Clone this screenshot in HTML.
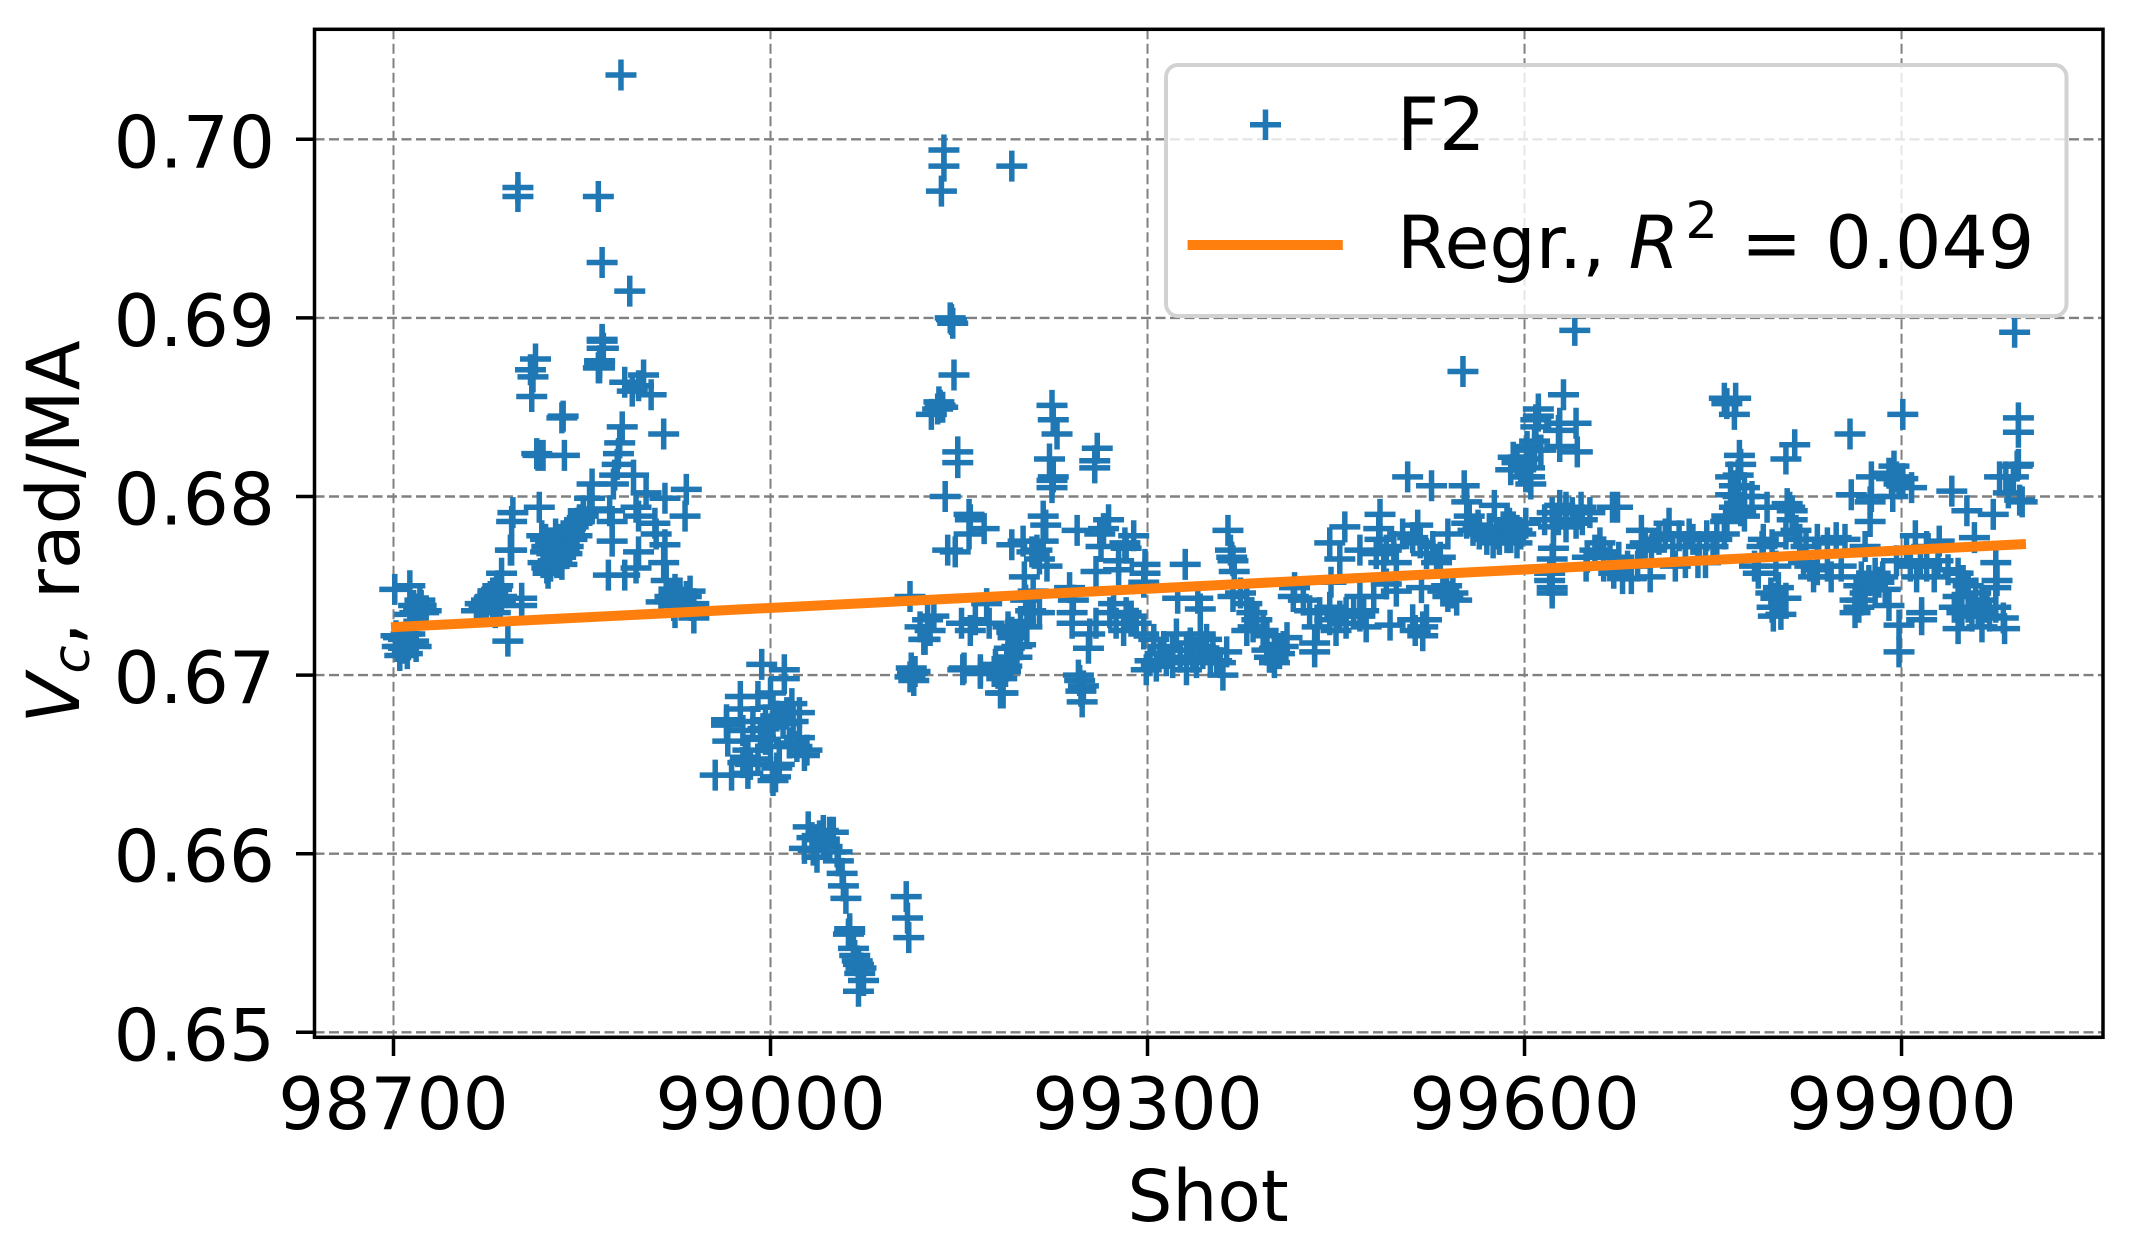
<!DOCTYPE html>
<html lang="en">
<head>
<meta charset="utf-8">
<title>Vc vs Shot</title>
<style>
html,body{margin:0;padding:0;background:#fff;}
svg{display:block;font-family:"DejaVu Sans","Liberation Sans",sans-serif;}
text{fill:#000;}
</style>
</head>
<body>
<svg id="chart" xmlns="http://www.w3.org/2000/svg" width="2136" height="1251" viewBox="0 0 2136 1251">
<rect x="0" y="0" width="2136" height="1251" fill="#fff"/>
<g id="grid"></g>
<g id="points"></g>
<g id="regression"></g>
<g id="legend">
<rect x="1166" y="65" width="900.5" height="251" rx="12" ry="12" fill="rgba(255,255,255,0.8)" stroke="#d2d2d2" stroke-width="4"/>
<path d="M1250 124.7H1281M1265.5 109.5V140" stroke="#1f77b4" stroke-width="5.5" fill="none"/>
<text x="1397" y="150" font-size="73">F2</text>
<line x1="1187.6" y1="245" x2="1342.8" y2="245" stroke="#ff7f0e" stroke-width="10"/>
<text x="1397" y="268" font-size="73">Regr., <tspan font-style="italic">R</tspan><tspan font-size="51" dy="-30" dx="6">2</tspan><tspan dy="30"> = 0.049</tspan></text>
</g>
<rect x="314.5" y="29.3" width="1788.5" height="1008" fill="none" stroke="#000" stroke-width="3.5"/>
<g id="ticks"></g>
<text x="1208" y="1221" font-size="71" text-anchor="middle">Shot</text>
<text transform="translate(79,532) rotate(-90)" font-size="73" text-anchor="middle"><tspan font-style="italic">V</tspan><tspan font-style="italic" font-size="51" dy="10">c</tspan><tspan dy="-10">, rad/MA</tspan></text>
</svg>
<script>
const xTickValues = [98700, 99000, 99300, 99600, 99900];
const yTickValues = [0.65, 0.66, 0.67, 0.68, 0.69, 0.70];
const regShots = [98698, 99999];
const regValues = [0.67268, 0.67734];
const shots = [
98813,98809,98811,98810,98835,98834,98815,98814,98819,98836,98795,98794,98793,98794,98786,98783,98779,98774,98769,98769,98779,98785,98802,98802,98791,
98777,98782,98772,98766,98781,98786,98774,
98866,98866,98864,98863,98884,98890,98899,98895,98905,98915,98882,98880,98879,98878,98891,98876,98875,98858,98856,98858,98851,98872,98874,98874,98893,98895,98901,98916,98933,98932,98908,98909,98916,98895,98915,98893,98871,98884,98917,98816,98818,98821,
98823,98822,98819,98825,98827,98830,98833,98835,98836,98839,98830,98833,98835,98838,98840,98843,98846,98848,98851,98846,98842,98838,98829,98825,98822,98826,98821,98834,
98924,98936,98913,98920,98928,98933,98939,98923,98937,98924,98939,98928,98920,
98701,98713,98721,98720,98716,98724,98717,98713,98722,98726,
98704,98708,98713,98716,98703,98708,98711,98705,98718,98712,98710,98702,98706,
98881,98799,98799,98863,98866,98888,98866,98867,98864,98864,
98993,99011,99011,98976,98990,99000,98965,98965,98976,98966,98978,99017,99023,99002,98996,99005,99013,99018,98994,99002,99010,98986,98992,99023,99029,99027,99021,98982,98980,98978,98982,98969,98956,98990,99004,99005,99002,99007,98984,99015,99000,98996,
99030,99042,99047,99033,99042,99050,99034,99053,99037,99045,99039,99027,99054,99057,99058,99060,99063,99063,99062,99066,99069,99072,99074,99070,99067,99070,99071,
99108,99109,99110,99113,99112,99114,99111,99115,99153,99167,99181,99179,99187,99184,99185,99194,99190,99122,
99224,99225,99228,99222,99225,99224,99224,99260,99258,99258,99217,99219,99244,99269,99265,99262,99263,99201,99192,99217,99212,99208,99214,99220,99202,99209,
99289,99282,99283,99277,99259,99298,99298,99297,99277,99330,99364,99366,99367,99368,99369,99417,99446,99324,99340,99342,99238,99241,99240,99240,
99273,99270,99259,99254,99253,99209,99204,99199,99193,99199,99196,99185,99188,99246,99249,99247,99248,99245,99283,99287,99291,99281,99275,
99302,99310,99315,99320,99326,99331,99336,99342,99347,99352,99350,99355,99360,99363,99305,99297,99307,99299,99331,99323,99313,99342,99344,99320,99339,99358,99334,
99374,99379,99383,99387,99379,99392,99384,99395,99401,99400,99408,99395,99401,99411,99397,99405,99368,
99416,99424,99429,99437,99435,99445,99453,99458,99464,99472,99450,99458,99469,99474,99445,99469,99480,99433,99433,99493,99511,99522,99519,99513,99519,
99507,99526,99552,99554,99576,99457,99485,99484,99445,99453,99469,99485,99490,99482,99496,99488,99498,99503,99515,99511,99517,99527,99530,99539,99533,99522,99498,99490,99518,99535,99546,99538,99543,99539,
99556,99554,99559,99564,99570,99575,99578,99583,99588,99594,99586,99563,99572,99580,
99631,99611,99611,99609,99609,99628,99641,99627,99628,99642,99608,99602,99608,99613,99602,99591,99589,99597,99604,99604,99605,99601,99594,
99586,99591,99597,99589,99594,99601,
99628,99622,99627,99633,99638,99645,99646,99633,99641,99616,99652,99633,99623,99674,99670,99623,99622,99620,99622,99622,99620,
99660,99656,99663,99650,99668,99675,99649,99663,99671,99678,99685,99700,99682,99690,
99693,99693,99696,99715,99712,99723,99707,99718,99731,99734,99745,99753,99759,99728,99739,99750,99701,99720,99728,99738,99744,99760,99761,
99759,99768,99767,99761,99771,99772,99764,99770,99767,99775,99764,99770,99775,99781,99767,99772,99761,99775,99793,99809,99811,99813,99815,99808,
99859,99901,99860,99876,99876,99875,99892,99896,99901,99890,99894,99898,99908,99893,99875,99940,99952,99973,99958,99978,99993,99993,99993,99992,99989,99994,99996,99985,99983,
99640,99990,99551,
99790,99789,99797,99783,99786,99800,99802,99796,99800,99808,99797,99804,99798,
99813,99816,99819,99824,99833,99841,99848,99855,99808,99827,99833,99841,99852,99822,99830,99844,
99871,99868,99866,99874,99879,99882,99868,99863,99887,99890,99871,99879,99885,99863,99866,99896,99898,99898,99916,99916,
99911,99930,99907,99912,99920,99929,99937,99915,99926,99904,99920,
99945,99949,99953,99959,99964,99968,99945,99942,99948,99945,99956,99964,99970,99953,99961,99975,99982,99981,99975,99976,99975,
99149,99149,99139,99158,99159,99170,99158,99141,99147,99111,99125,99119,99123,99127,99130,99152,99163,99159,99174,99172,99192,99189,99203,99207,99214,99196,99196,99183,99154,99167,99178,99183,
99138,99138,99136,99192,99143,99145,99144,99146,99134,99135,99128,99133,99137
];
const vcValues = [
.6877,.6871,.6867,.6856,.6845,.6844,.6823,.6824,.6823,.6823,.6791,.6786,.6770,.6770,.6757,.6750,.6746,.6742,.6740,.6736,.6739,.6741,.6743,.6739,.6719,
.6744,.6748,.6739,.6736,.6735,.6744,.6736,
.6887,.6883,.6875,.6872,.6864,.6859,.6868,.6862,.6857,.6835,.6839,.6830,.6824,.6818,.6812,.6812,.6807,.6807,.6799,.6793,.6792,.6792,.6786,.6775,.6794,.6789,.6802,.6799,.6804,.6789,.6785,.6779,.6773,.6769,.6763,.6760,.6756,.6756,.6753,.6794,.6778,.6769,
.6757,.6760,.6763,.6761,.6764,.6763,.6766,.6768,.6772,.6772,.6770,.6776,.6778,.6779,.6781,.6783,.6785,.6787,.6789,.6778,.6776,.6768,.6779,.6774,.6772,.6768,.6776,.6762,
.6748,.6747,.6741,.6744,.6742,.6744,.6740,.6739,.6739,.6735,.6732,.6746,.6741,
.6748,.6750,.6742,.6737,.6739,.6735,.6735,.6734,.6739,.6736,
.6721,.6720,.6723,.6719,.6716,.6715,.6712,.6711,.6716,.6717,.6723,.6722,.6716,
.7036,.6973,.6968,.6968,.6931,.6915,.6888,.6883,.6876,.6872,
.6706,.6703,.6698,.6688,.6688,.6690,.6675,.6672,.6681,.6663,.6669,.6684,.6679,.6682,.6675,.6677,.6679,.6674,.6670,.6671,.6673,.6674,.6665,.6665,.6658,.6655,.6660,.6658,.6654,.6651,.6645,.6644,.6644,.6653,.6643,.6648,.6641,.6650,.6650,.6662,.6660,.6664,
.6615,.6613,.6612,.6609,.6608,.6612,.6602,.6601,.6598,.6604,.6610,.6603,.6596,.6589,.6582,.6575,.6556,.6558,.6555,.6547,.6540,.6536,.6529,.6523,.6543,.6538,.6533,
.6576,.6564,.6553,.6701,.6704,.6697,.6699,.6702,.6703,.6701,.6701,.6706,.6702,.6698,.6690,.6710,.6715,.6720,
.6851,.6843,.6835,.6821,.6811,.6809,.6805,.6827,.6820,.6816,.6789,.6784,.6781,.6787,.6782,.6779,.6772,.6775,.6773,.6775,.6770,.6769,.6765,.6761,.6755,.6747,
.6778,.6774,.6771,.6759,.6758,.6762,.6757,.6752,.6764,.6762,.6781,.6770,.6766,.6764,.6758,.6749,.6752,.6743,.6743,.6737,.6749,.6742,.6735,.6729,
.6740,.6735,.6729,.6723,.6715,.6735,.6727,.6730,.6721,.6717,.6710,.6690,.6705,.6697,.6694,.6691,.6685,.6700,.6735,.6733,.6729,.6725,.6729,
.6708,.6712,.6708,.6714,.6710,.6714,.6710,.6716,.6720,.6714,.6708,.6708,.6700,.6713,.6720,.6723,.6705,.6703,.6703,.6723,.6716,.6723,.6712,.6707,.6707,.6707,.6718,
.6746,.6740,.6735,.6731,.6725,.6725,.6727,.6722,.6715,.6710,.6716,.6714,.6707,.6721,.6710,.6712,.6744,
.6744,.6742,.6736,.6735,.6727,.6731,.6733,.6735,.6735,.6736,.6725,.6729,.6733,.6727,.6738,.6744,.6744,.6718,.6713,.6728,.6731,.6731,.6727,.6725,.6722,
.6811,.6806,.6806,.6797,.6795,.6783,.6790,.6782,.6774,.6765,.6770,.6776,.6770,.6768,.6772,.6763,.6763,.6779,.6784,.6777,.6774,.6772,.6763,.6779,.6766,.6768,.6747,.6751,.6749,.6747,.6742,.6750,.6746,.6744,
.6789,.6785,.6781,.6779,.6776,.6774,.6779,.6783,.6785,.6781,.6777,.6784,.6782,.6776,
.6857,.6849,.6845,.6843,.6839,.6841,.6841,.6837,.6828,.6825,.6831,.6828,.6826,.6826,.6821,.6822,.6815,.6815,.6816,.6811,.6807,.6811,.6819,
.6787,.6783,.6779,.6777,.6774,.6785,
.6795,.6791,.6787,.6783,.6791,.6794,.6787,.6791,.6785,.6787,.6791,.6794,.6783,.6794,.6794,.6771,.6765,.6753,.6746,.6749,.6757,
.6774,.6770,.6769,.6766,.6766,.6766,.6761,.6761,.6757,.6754,.6754,.6755,.6761,.6761,
.6781,.6772,.6774,.6785,.6779,.6778,.6776,.6772,.6779,.6776,.6778,.6776,.6779,.6772,.6772,.6772,.6770,.6761,.6763,.6763,.6763,.6786,.6789,
.6855,.6855,.6846,.6852,.6823,.6818,.6811,.6812,.6806,.6805,.6801,.6800,.6800,.6800,.6794,.6792,.6789,.6789,.6794,.6796,.6794,.6792,.6829,.6821,
.6835,.6846,.6801,.6811,.6800,.6797,.6810,.6811,.6810,.6813,.6817,.6807,.6805,.6800,.6786,.6803,.6792,.6790,.6777,.6811,.6844,.6836,.6818,.6817,.6811,.6798,.6797,.6802,.6811,
.6893,.6892,.6870,
.6776,.6772,.6773,.6761,.6757,.6761,.6749,.6746,.6743,.6743,.6738,.6734,.6733,
.6787,.6781,.6776,.6772,.6776,.6774,.6777,.6776,.6779,.6761,.6759,.6761,.6761,.6763,.6755,.6755,
.6772,.6755,.6750,.6753,.6757,.6752,.6742,.6735,.6748,.6739,.6746,.6748,.6755,.6742,.6738,.6764,.6728,.6713,.6735,.6731,
.6778,.6775,.6761,.6755,.6761,.6764,.6759,.6764,.6755,.6770,.6772,
.6757,.6753,.6750,.6746,.6742,.6738,.6744,.6738,.6735,.6726,.6733,.6727,.6733,.6738,.6735,.6738,.6726,.6732,.6763,.6753,.6749,
.6825,.6819,.6800,.6790,.6787,.6782,.6779,.6770,.6769,.6744,.6731,.6727,.6720,.6725,.6733,.6729,.6731,.6725,.6729,.6740,.6724,.6727,.6742,.6736,.6735,.6716,.6710,.6703,.6704,.6703,.6702,.6690,
.6994,.6985,.6971,.6985,.6900,.6897,.6899,.6868,.6853,.6851,.6846,.6849,.6850
];

const SVG_NS = 'http://www.w3.org/2000/svg';
const plotLeft = 314.5, plotRight = 2103, plotTop = 29.3, plotBottom = 1037.3;
function xScale(shot) { return 393.5 + (shot - 98700) * 1.2567; }
function yScale(val) { return 1032.3 - (val - 0.65) * 17860; }
function make(tag, parentId) {
  const el = document.createElementNS(SVG_NS, tag);
  document.getElementById(parentId).appendChild(el);
  return el;
}

xTickValues.forEach(function (t) {
  const px = xScale(t);
  const g = make('line', 'grid');
  
  
  g.setAttribute('x1', px); g.setAttribute('x2', px);
  g.setAttribute('y1', plotTop); g.setAttribute('y2', plotBottom);
  g.setAttribute('stroke', '#808080');
  g.setAttribute('stroke-width', '2');
  g.setAttribute('stroke-dasharray', '10 4.5');
  const tk = make('line', 'ticks');
  
  
  tk.setAttribute('x1', px); tk.setAttribute('x2', px);
  tk.setAttribute('y1', plotBottom); tk.setAttribute('y2', 1056);
  tk.setAttribute('stroke', '#000');
  tk.setAttribute('stroke-width', '3.5');
  const lb = make('text', 'ticks');
  
  
  lb.setAttribute('x', px); lb.setAttribute('y', 1129);
  lb.setAttribute('font-size', '72.5');
  lb.setAttribute('text-anchor', 'middle');
  lb.textContent = String(t);
});

yTickValues.forEach(function (t) {
  const py = yScale(t);
  const g = make('line', 'grid');
  
  
  g.setAttribute('x1', plotLeft); g.setAttribute('x2', plotRight);
  g.setAttribute('y1', py); g.setAttribute('y2', py);
  g.setAttribute('stroke', '#808080');
  g.setAttribute('stroke-width', '2.4');
  g.setAttribute('stroke-dasharray', '10 4.5');
  const tk = make('line', 'ticks');
  
  
  tk.setAttribute('x1', 296); tk.setAttribute('x2', plotLeft);
  tk.setAttribute('y1', py); tk.setAttribute('y2', py);
  tk.setAttribute('stroke', '#000');
  tk.setAttribute('stroke-width', '3.5');
  const lb = make('text', 'ticks');
  
  
  lb.setAttribute('x', 275); lb.setAttribute('y', py + 28);
  lb.setAttribute('font-size', '72.5');
  lb.setAttribute('text-anchor', 'end');
  lb.textContent = t.toFixed(2);
});

shots.forEach(function (s, i) {
  const px = xScale(s), py = yScale(vcValues[i]);
  const m = make('path', 'points');
  
  
  m.setAttribute('d', 'M' + (px - 15.5) + ' ' + py + 'H' + (px + 15.5) + 'M' + px + ' ' + (py - 15.5) + 'V' + (py + 15.5));
  m.setAttribute('stroke', '#1f77b4');
  m.setAttribute('stroke-width', '5.5');
  m.setAttribute('fill', 'none');
});

const regLine = make('line', 'regression');


regLine.setAttribute('x1', xScale(regShots[0]));
regLine.setAttribute('y1', yScale(regValues[0]));
regLine.setAttribute('x2', xScale(regShots[1]));
regLine.setAttribute('y2', yScale(regValues[1]));
regLine.setAttribute('stroke', '#ff7f0e');
regLine.setAttribute('stroke-width', '10');
</script>
</body>
</html>
